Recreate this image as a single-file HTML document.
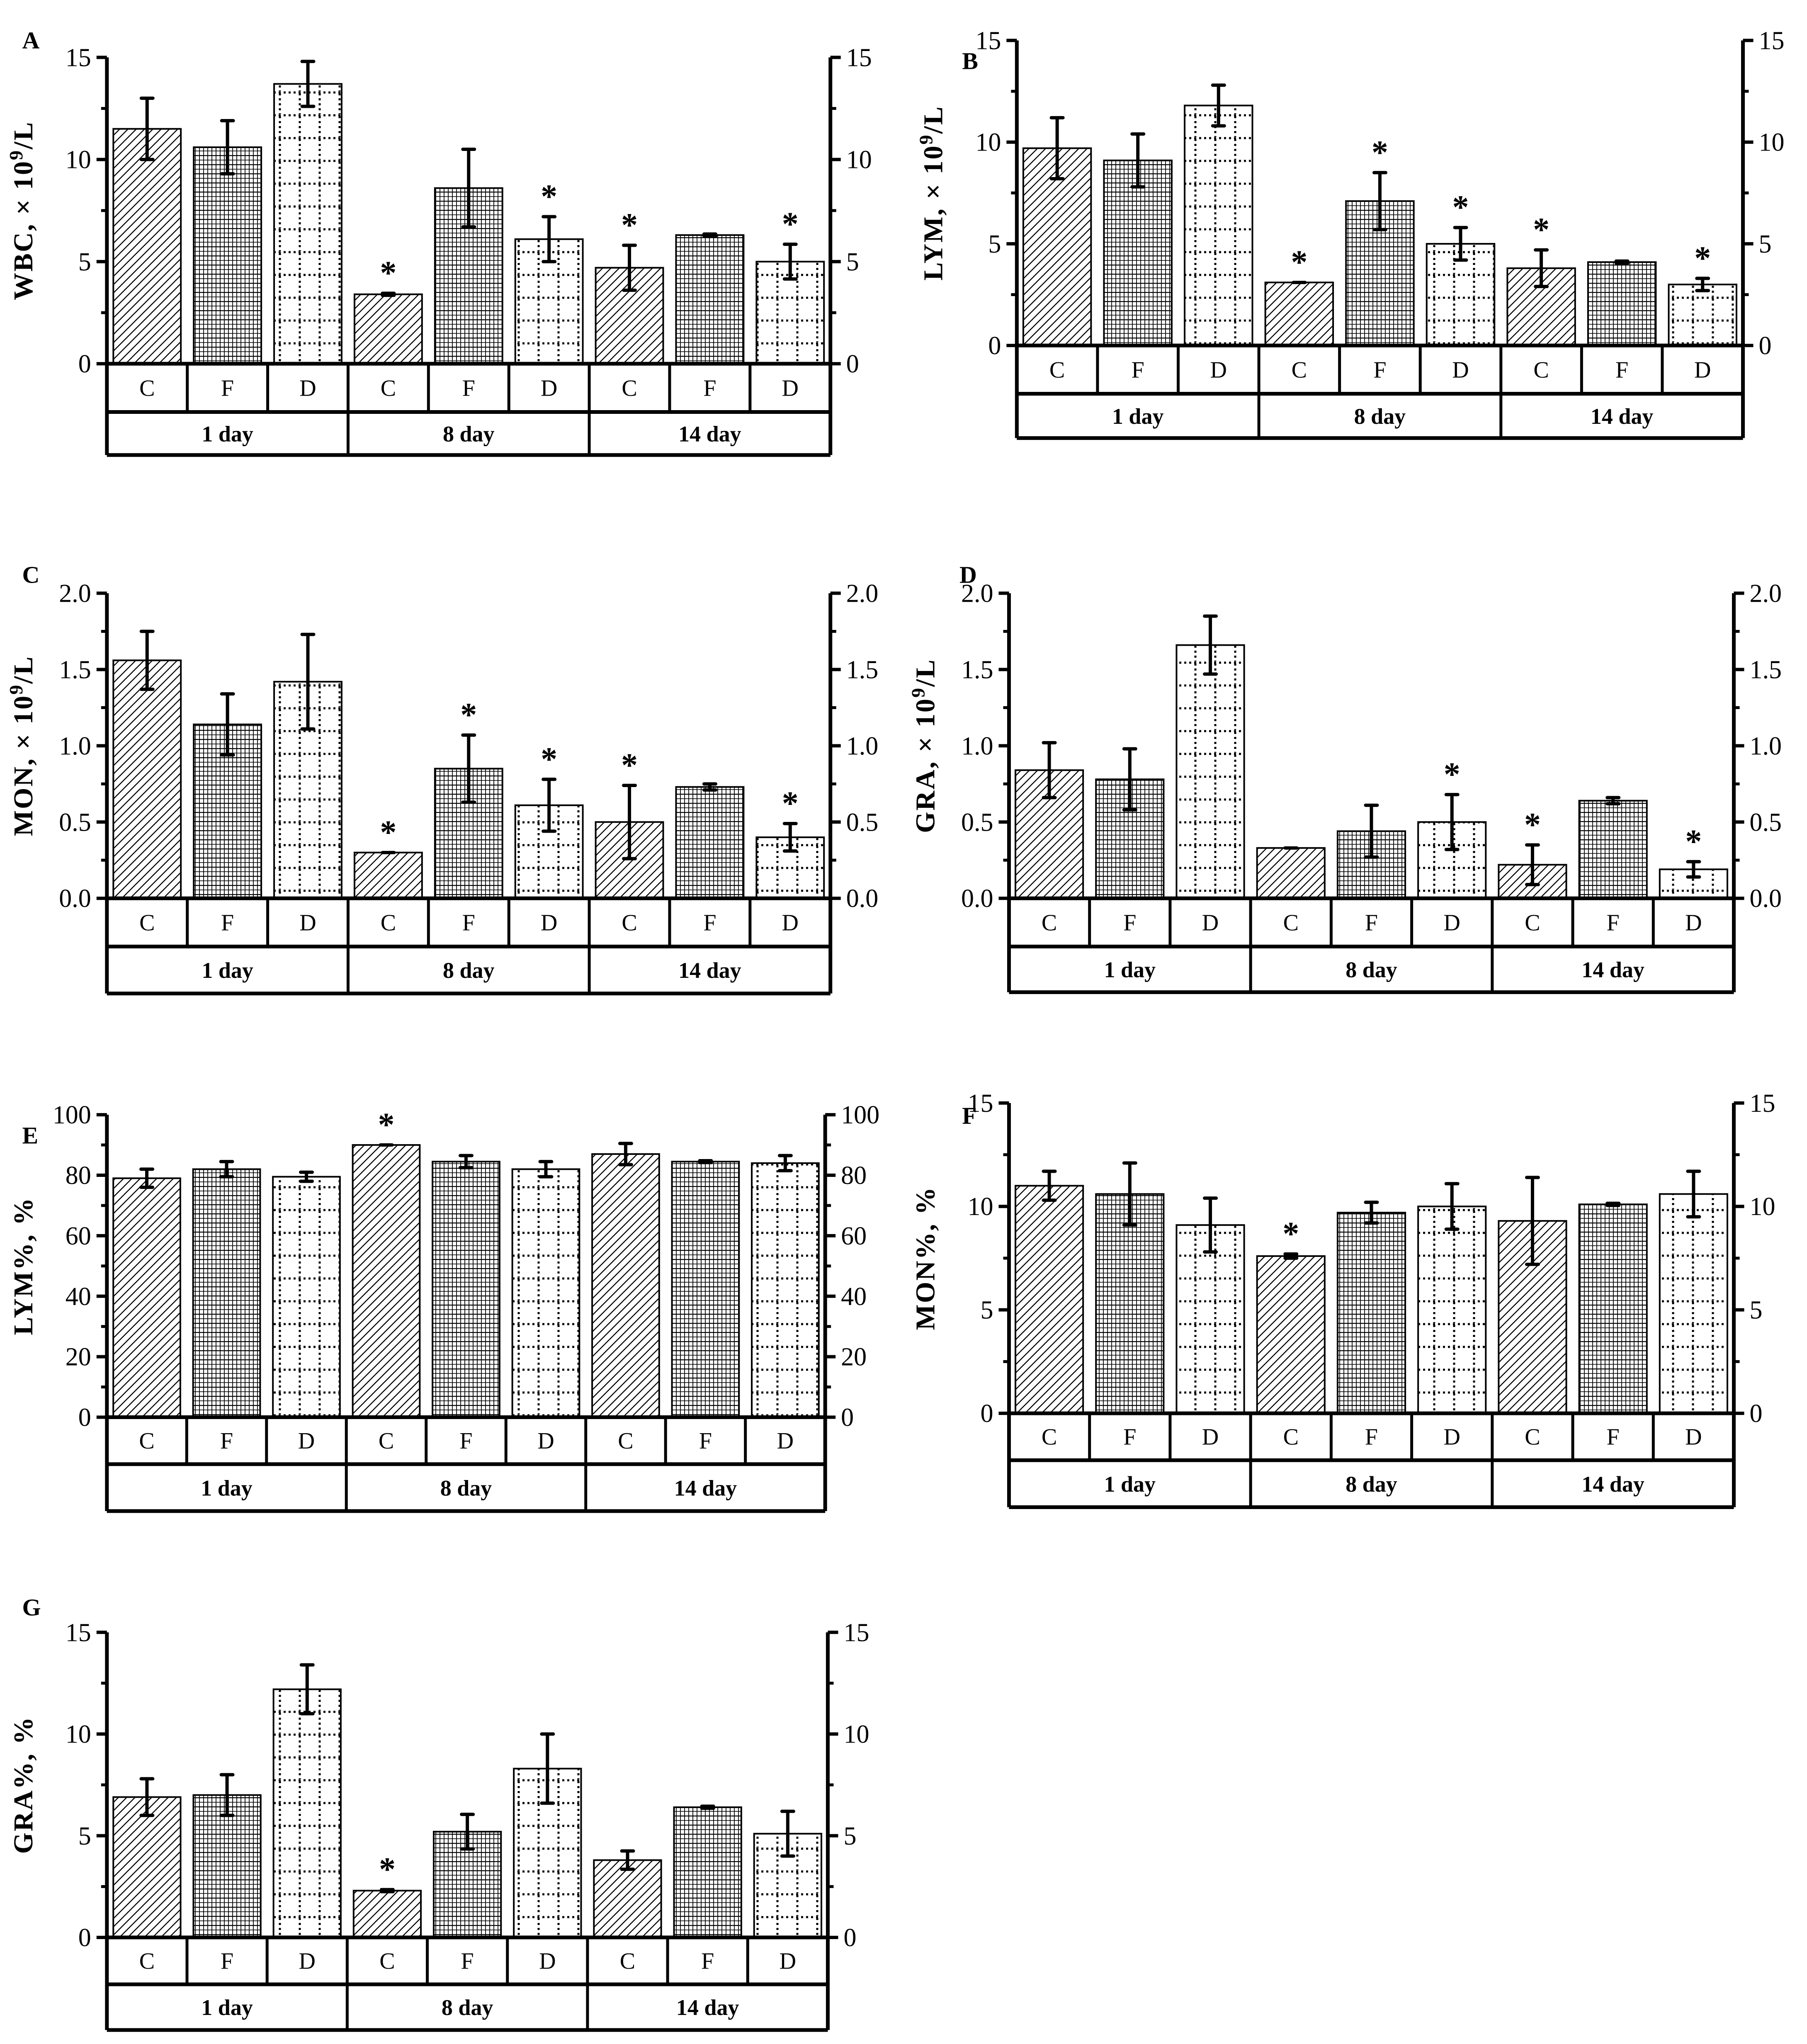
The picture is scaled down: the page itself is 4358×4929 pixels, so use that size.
<!DOCTYPE html>
<html><head><meta charset="utf-8"><style>
html,body{margin:0;padding:0;background:#fff;}
svg{display:block;}
text{font-family:"Liberation Serif",serif;fill:#000;}
</style></head><body>
<svg id="fig" width="4358" height="4929" viewBox="0 0 4358 4929" xmlns="http://www.w3.org/2000/svg">
<defs>
<pattern id="hatch" patternUnits="userSpaceOnUse" width="20" height="20">
<path d="M-5,5 L5,-5 M0,20 L20,0 M15,25 L25,15" stroke="#000" stroke-width="2.4"/>
</pattern>
<pattern id="grid" patternUnits="userSpaceOnUse" width="10" height="22">
<rect width="10" height="22" fill="#fff"/>
<path d="M1,0 V22" stroke="#000" stroke-width="1.8"/>
<path d="M0,1 H10" stroke="#000" stroke-width="2.6"/>
<path d="M0,12 H10" stroke="#000" stroke-width="1.6"/>
</pattern>
<pattern id="dots" patternUnits="userSpaceOnUse" width="48" height="55">
<rect width="48" height="55" fill="#fff"/>
<path d="M0,3 H48" stroke="#000" stroke-width="5" stroke-dasharray="5,7"/>
<path d="M3,5 V55" stroke="#000" stroke-width="5" stroke-dasharray="5,7"/>
</pattern>
</defs>
<g id="root"></g>
</svg>
<script>
// ----- data -----
const groupLabels = ["1 day","8 day","14 day"];
const catLabels = ["C","F","D"];
const valA = [11.5,10.6,13.7,3.4,8.6,6.1,4.7,6.3,5.0];
const errA = [1.5,1.3,1.1,0.05,1.9,1.1,1.1,0.05,0.85];
const starA = [0,0,0,1,0,1,1,0,1];
const valB = [9.7,9.1,11.8,3.1,7.1,5.0,3.8,4.1,3.0];
const errB = [1.5,1.3,1.0,0,1.4,0.8,0.9,0.05,0.3];
const starB = [0,0,0,1,1,1,1,0,1];
const valC = [1.56,1.14,1.42,0.30,0.85,0.61,0.50,0.73,0.40];
const errC = [0.19,0.20,0.31,0,0.22,0.17,0.24,0.02,0.09];
const starC = [0,0,0,1,1,1,1,0,1];
const valD = [0.84,0.78,1.66,0.33,0.44,0.50,0.22,0.64,0.19];
const errD = [0.18,0.20,0.19,0,0.17,0.18,0.13,0.02,0.05];
const starD = [0,0,0,0,0,1,1,0,1];
const valE = [79,82,79.5,90,84.5,82,87,84.5,84];
const errE = [3,2.5,1.5,0,2,2.5,3.5,0.3,2.5];
const starE = [0,0,0,1,0,0,0,0,0];
const valF = [11.0,10.6,9.1,7.6,9.7,10.0,9.3,10.1,10.6];
const errF = [0.7,1.5,1.3,0.1,0.5,1.1,2.1,0.05,1.1];
const starF = [0,0,0,1,0,0,0,0,0];
const valG = [6.9,7.0,12.2,2.3,5.2,8.3,3.8,6.4,5.1];
const errG = [0.9,1.0,1.2,0.05,0.85,1.7,0.45,0.05,1.1];
const starG = [0,0,0,1,0,0,0,0,0];

const S = 3.144;
const NS = "http://www.w3.org/2000/svg";
const root = document.getElementById('root');
function mk(tag, attrs, parent){
  const e = document.createElementNS(NS, tag);
  for (const k in attrs) e.setAttribute(k, attrs[k]);
  (parent||root).appendChild(e);
  return e;
}
const fills = ["url(#hatch)","url(#grid)","url(#dots)"];

const panels = [
 {id:"a",letter:"A",lx:17,ly:37,L:82,R:637,T:44,Z:279,r1:316,r2:349,max:15,step:5,dec:0,title:"WBC, × 10",suf:"/L",sup:"9",vals:valA,errs:errA,stars:starA},
 {id:"b",letter:"B",lx:738,ly:53,L:780,R:1337,T:31,Z:265,r1:302,r2:336,max:15,step:5,dec:0,title:"LYM, × 10",suf:"/L",sup:"9",vals:valB,errs:errB,stars:starB},
 {id:"c",letter:"C",lx:17,ly:447,L:82,R:637,T:455,Z:689,r1:726,r2:762,max:2,step:0.5,dec:1,title:"MON, × 10",suf:"/L",sup:"9",vals:valC,errs:errC,stars:starC},
 {id:"d",letter:"D",lx:736,ly:447,L:774,R:1330,T:455,Z:689,r1:726,r2:761,max:2,step:0.5,dec:1,title:"GRA, × 10",suf:"/L",sup:"9",vals:valD,errs:errD,stars:starD},
 {id:"e",letter:"E",lx:17,ly:877,L:82,R:633,T:855,Z:1087,r1:1123,r2:1159,max:100,step:20,dec:0,title:"LYM%, %",suf:"",sup:"",vals:valE,errs:errE,stars:starE},
 {id:"f",letter:"F",lx:738,ly:862,L:774,R:1330,T:846,Z:1084,r1:1120,r2:1156,max:15,step:5,dec:0,title:"MON%, %",suf:"",sup:"",vals:valF,errs:errF,stars:starF},
 {id:"g",letter:"G",lx:17,ly:1239,L:82,R:635,T:1252,Z:1486,r1:1522,r2:1557,max:15,step:5,dec:0,title:"GRA%, %",suf:"",sup:"",vals:valG,errs:errG,stars:starG}
];

panels.forEach(p=>{
  const L=p.L*S, R=p.R*S, T=p.T*S, Z=p.Z*S, r1=p.r1*S, r2=p.r2*S;
  const y = v => Z - (v/p.max)*(Z-T);
  const cw = (R-L)/9;
  const g = mk('g',{});
  
  
  const lt = mk('text',{x:p.lx*S,y:p.ly*S,'font-size':58,'font-weight':'bold'},g);
  lt.textContent = p.letter;
  
  
  p.vals.forEach((v,i)=>{
    const cx = L + cw*(i+0.5), bw = cw*0.84;
    const b = mk('rect',{x:cx-bw/2,y:y(v),width:bw,height:Z-y(v),fill:fills[i%3],stroke:'#000','stroke-width':4},g);
    
    
    const e = p.errs[i];
    if (e>0){
      const eb = mk('path',{d:`M${cx},${y(v+e)} V${y(v-e)} M${cx-14},${y(v+e)} H${cx+14} M${cx-14},${y(v-e)} H${cx+14}`,stroke:'#000','stroke-width':8,fill:'none','stroke-linecap':'round'},g);
      
      
    } else {
      mk('path',{d:`M${cx-14},${y(v)} H${cx+14}`,stroke:'#000','stroke-width':8,'stroke-linecap':'round'},g);
    }
    if (p.stars[i]){
      const st = mk('text',{x:cx,y:y(v+e)-22,'font-size':80,'font-weight':'bold','text-anchor':'middle'},g);
      st.textContent='*';
      
      
    }
  });
  const ax = mk('path',{d:`M${L},${T} V${r2} M${R},${T} V${r2} M${L},${Z} H${R} M${L},${r1} H${R} M${L},${r2} H${R}`,stroke:'#000','stroke-width':9,fill:'none'},g);
  
  
  for (let k=1;k<9;k++){ mk('path',{d:`M${L+cw*k},${Z} V${r1}`,stroke:'#000','stroke-width':7},g); }
  for (let k=1;k<3;k++){ mk('path',{d:`M${L+cw*3*k},${r1} V${r2}`,stroke:'#000','stroke-width':7},g); }
  const n = Math.round(p.max/p.step);
  for (let k=0;k<=n;k++){
    const v=k*p.step, yy=y(v);
    mk('path',{d:`M${L-25},${yy} H${L} M${R},${yy} H${R+25}`,stroke:'#000','stroke-width':8},g);
    if (k<n){ const ym=y(v+p.step/2); mk('path',{d:`M${L-14},${ym} H${L} M${R},${ym} H${R+14}`,stroke:'#000','stroke-width':7},g); }
    const lab = v.toFixed(p.dec);
    const t1 = mk('text',{x:L-38,y:yy+21,'font-size':62,'text-anchor':'end'},g); t1.textContent=lab;
    
    
    const t2 = mk('text',{x:R+38,y:yy+21,'font-size':62},g); t2.textContent=lab;
    
    
  }
  for (let i=0;i<9;i++){
    const t = mk('text',{x:L+cw*(i+0.5),y:(Z+r1)/2+19,'font-size':56,'text-anchor':'middle'},g);
    t.textContent = catLabels[i%3];
    
    
  }
  for (let j=0;j<3;j++){
    const t = mk('text',{x:L+cw*(3*j+1.5),y:(r1+r2)/2+19,'font-size':54,'text-anchor':'middle','font-weight':'bold'},g);
    t.textContent = groupLabels[j];
    
    
  }
  const xt = p.L*S - 180;
  const yt = (T+Z)/2;
  const tt = mk('text',{x:0,y:0,'font-size':66,'font-weight':'bold','text-anchor':'middle','letter-spacing':3,transform:`translate(${xt},${yt}) rotate(-90)`},g);
  
  
  const a = document.createElementNS(NS,'tspan'); a.textContent=p.title; tt.appendChild(a);
  if (p.sup){
    const b = document.createElementNS(NS,'tspan'); b.setAttribute('dy','-24'); b.setAttribute('font-size','46'); b.textContent=p.sup; tt.appendChild(b);
    const c = document.createElementNS(NS,'tspan'); c.setAttribute('dy','24'); c.textContent=p.suf; tt.appendChild(c);
  }
});
</script>
</body></html>
